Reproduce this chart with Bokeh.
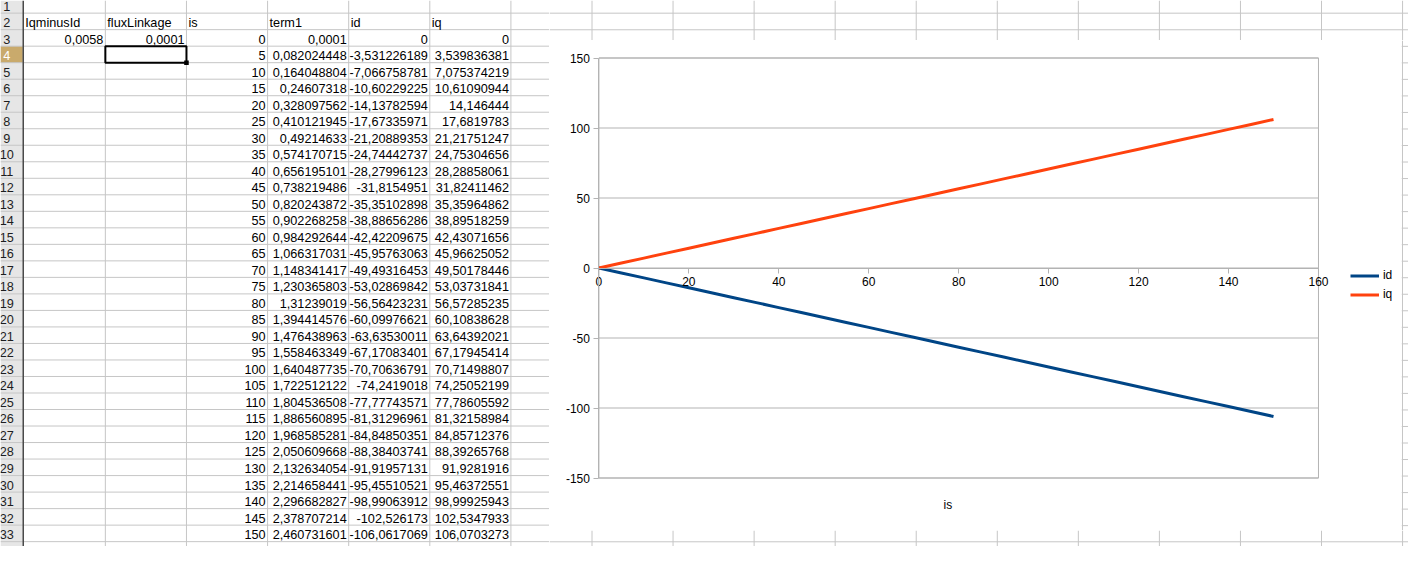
from bokeh.plotting import figure
from bokeh.models import Range1d, Legend, LegendItem, Label, FixedTicker, CustomJSTickFormatter
from bokeh.layouts import row, column
from bokeh.embed import file_html
from bokeh.resources import INLINE
from bokeh.core.properties import value

# ---------------- data (as displayed in the sheet) ----------------
col_headers = ["IqminusId", "fluxLinkage", "is", "term1", "id", "iq"]
iqminusid = ["0,0058"]
fluxlinkage = ["0,0001"]
is_vals = [0, 5, 10, 15, 20, 25, 30, 35, 40, 45, 50, 55, 60, 65, 70, 75,
           80, 85, 90, 95, 100, 105, 110, 115, 120, 125, 130, 135, 140, 145, 150]
term1 = ["0,0001", "0,082024448", "0,164048804", "0,24607318", "0,328097562",
         "0,410121945", "0,49214633", "0,574170715", "0,656195101", "0,738219486",
         "0,820243872", "0,902268258", "0,984292644", "1,066317031", "1,148341417",
         "1,230365803", "1,31239019", "1,394414576", "1,476438963", "1,558463349",
         "1,640487735", "1,722512122", "1,804536508", "1,886560895", "1,968585281",
         "2,050609668", "2,132634054", "2,214658441", "2,296682827", "2,378707214",
         "2,460731601"]
id_txt = ["0", "-3,531226189", "-7,066758781", "-10,60229225", "-14,13782594",
          "-17,67335971", "-21,20889353", "-24,74442737", "-28,27996123", "-31,8154951",
          "-35,35102898", "-38,88656286", "-42,42209675", "-45,95763063", "-49,49316453",
          "-53,02869842", "-56,56423231", "-60,09976621", "-63,63530011", "-67,17083401",
          "-70,70636791", "-74,2419018", "-77,77743571", "-81,31296961", "-84,84850351",
          "-88,38403741", "-91,91957131", "-95,45510521", "-98,99063912", "-102,526173",
          "-106,0617069"]
iq_txt = ["0", "3,539836381", "7,075374219", "10,61090944", "14,146444",
          "17,6819783", "21,21751247", "24,75304656", "28,28858061", "31,82411462",
          "35,35964862", "38,89518259", "42,43071656", "45,96625052", "49,50178446",
          "53,03731841", "56,57285235", "60,10838628", "63,64392021", "67,17945414",
          "70,71498807", "74,25052199", "77,78605592", "81,32158984", "84,85712376",
          "88,39265768", "91,9281916", "95,46372551", "98,99925943", "102,5347933",
          "106,0703273"]
series_names = ["id", "iq"]
x_ticks = [0, 20, 40, 60, 80, 100, 120, 140, 160]
y_ticks = [-150, -100, -50, 0, 50, 100, 150]
x_title = "is"


def num(s):
    return float(s.replace(",", "."))


id_vals = [num(s) for s in id_txt]
iq_vals = [num(s) for s in iq_txt]

# ---------------- layout geometry (reference pixels) ----------------
REF_W, REF_H = 1424, 562
OUT_W, OUT_H = 1408, 546
SX, SY = OUT_W / REF_W, OUT_H / REF_H
HDR_R = 23
COL_EDGES = [23, 106, 188, 270, 352, 434, 516, 598, 680, 762, 844, 926,
             1008, 1090, 1172, 1254, 1336, 1418]
ROW_LINES = [13 + 17 * k for k in range(34)]
N_ROWS = 33
CH_L, CH_R, CH_T, CH_B = 555, 1417, 41, 545      # chart object box
FR_L, FR_R, FR_T, FR_B = 605, 1333, 59, 491      # plot area box
LEG_X, LEG_TOP = 1365, 273.5                     # legend box corner
TITLE_X, TITLE_Y = 958, 519                      # axis title centre

SHEET_FONT = value("Liberation Sans")
FS = value("12.7px")
GRID_C = "#c6c6c6"
CHART_GRID = "#b3b3b3"


def row_top(r):
    return 0 if r == 1 else 13 + 17 * (r - 2)


def row_mid(r):
    return 6.5 if r == 1 else row_top(r) + 9.7


def base_fig(x0, x1, y0, y1, w, h):
    f = figure(width=w, height=h, x_range=Range1d(x0, x1), y_range=Range1d(y1, y0),
               output_backend="svg", toolbar_location=None,
               x_axis_location=None, y_axis_location=None, min_border=0,
               outline_line_color=None, background_fill_color="white",
               border_fill_color="white")
    f.grid.visible = False
    return f


def grid_strip(x0, x1, y0, y1, w, h):
    f = base_fig(x0, x1, y0, y1, w, h)
    hy = [y for y in ROW_LINES if y0 <= y <= y1]
    if hy:
        f.segment(x0=[x0] * len(hy), x1=[x1] * len(hy), y0=hy, y1=hy,
                  line_color=GRID_C, line_width=1)
    vx = [x for x in COL_EDGES if x0 <= x <= x1]
    if vx:
        f.segment(x0=vx, x1=vx, y0=[y0] * len(vx), y1=[y1] * len(vx),
                  line_color=GRID_C, line_width=1)
    return f


w_left = round(CH_L * SX)
w_chart = round((CH_R - CH_L) * SX)
w_rs = OUT_W - w_left - w_chart
h_top = round(CH_T * SY)
h_chart = round((CH_B - CH_T) * SY)
h_bot = OUT_H - h_top - h_chart

# ---------------- left: the spreadsheet cells ----------------
sheet = base_fig(0, CH_L, 0, REF_H, w_left, OUT_H)
sheet.quad(left=[0], right=[HDR_R], top=[0], bottom=[REF_H],
           fill_color="#e6e6e6", line_color=None)
sheet.quad(left=[0], right=[HDR_R - 0.5], top=[row_top(4)], bottom=[row_top(5)],
           fill_color="#c9aa6c", line_color=None)
sheet.segment(x0=[0] * len(ROW_LINES), x1=[CH_L] * len(ROW_LINES),
              y0=ROW_LINES, y1=ROW_LINES, line_color=GRID_C, line_width=1)
cx = [x for x in COL_EDGES[1:] if x < CH_L]
sheet.segment(x0=cx, x1=cx, y0=[0] * len(cx), y1=[REF_H] * len(cx),
              line_color=GRID_C, line_width=1)
sheet.segment(x0=[HDR_R], x1=[HDR_R], y0=[0], y1=[REF_H],
              line_color="#4a4a4a", line_width=1.5)

# row numbers
rn = [r for r in range(1, N_ROWS + 1) if r != 4]
sheet.text(x=[6.3] * len(rn), y=[row_mid(r) for r in rn], text=[str(r) for r in rn],
           text_font=SHEET_FONT, text_font_size=FS, text_color="#1e1e1e",
           text_align="center", text_baseline="middle")
sheet.text(x=[6.3], y=[row_mid(4)], text=["4"],
           text_font=SHEET_FONT, text_font_size=FS, text_color="white",
           text_align="center", text_baseline="middle")

# header row (row 2)
sheet.text(x=[COL_EDGES[i] + 2 for i in range(6)], y=[row_mid(2)] * 6, text=col_headers,
           text_font=SHEET_FONT, text_font_size=FS, text_color="black",
           text_align="left", text_baseline="middle")

# numeric cells, right aligned
tx, ty, tt = [], [], []
tx += [COL_EDGES[1] - 2, COL_EDGES[2] - 2]
ty += [row_mid(3), row_mid(3)]
tt += [iqminusid[0], fluxlinkage[0]]
for i in range(len(is_vals)):
    r = 3 + i
    for c, s in ((3, str(is_vals[i])), (4, term1[i]), (5, id_txt[i]), (6, iq_txt[i])):
        tx.append(COL_EDGES[c] - 2)
        ty.append(row_mid(r))
        tt.append(s)
sheet.text(x=tx, y=ty, text=tt, text_font=SHEET_FONT, text_font_size=FS,
           text_color="black", text_align="right", text_baseline="middle")

# selected cell B4
sheet.quad(left=[COL_EDGES[1]], right=[COL_EDGES[2]], top=[row_top(4)], bottom=[row_top(5)],
           fill_color=None, line_color="black", line_width=2)
sheet.quad(left=[COL_EDGES[2] - 2.3], right=[COL_EDGES[2] + 2.3],
           top=[row_top(5) - 2.3], bottom=[row_top(5) + 2.3],
           fill_color="black", line_color=None)

# ---------------- strips around the chart ----------------
top_strip = grid_strip(CH_L, REF_W, 0, CH_T, w_chart + w_rs, h_top)
right_strip = grid_strip(CH_R, REF_W, CH_T, CH_B, w_rs, h_chart)
bottom_strip = grid_strip(CH_L, REF_W, CH_B, REF_H, w_chart + w_rs, h_bot)

# ---------------- the chart (frame = whole chart box) ----------------
XU = (FR_R - FR_L) / (x_ticks[-1] - x_ticks[0])   # ref px per x unit
YU = (FR_B - FR_T) / (y_ticks[-1] - y_ticks[0])   # ref px per y unit
x0r = x_ticks[0] - (FR_L - CH_L) / XU
x1r = x_ticks[-1] + (CH_R - FR_R) / XU
y1r = y_ticks[-1] + (FR_T - CH_T) / YU
y0r = y_ticks[0] - (CH_B - FR_B) / YU

p = figure(width=w_chart, height=h_chart, x_range=Range1d(x0r, x1r), y_range=Range1d(y0r, y1r),
           output_backend="svg", toolbar_location=None, min_border=0,
           background_fill_color="white", border_fill_color="white",
           outline_line_color=None)
p.grid.visible = False

xmin, xmax = x_ticks[0], x_ticks[-1]
ymin, ymax = y_ticks[0], y_ticks[-1]

# horizontal grid lines and plot-area border
p.segment(x0=[xmin] * len(y_ticks), x1=[xmax] * len(y_ticks), y0=y_ticks, y1=y_ticks,
          line_color=CHART_GRID, line_width=1)
p.quad(left=[xmin], right=[xmax], bottom=[ymin], top=[ymax],
       fill_color=None, line_color=CHART_GRID, line_width=1)

p.xaxis.fixed_location = 0
p.yaxis.fixed_location = 0
p.xaxis.bounds = (xmin, xmax)
p.yaxis.bounds = (ymin, ymax)
p.xaxis.ticker = FixedTicker(ticks=x_ticks)
p.yaxis.ticker = FixedTicker(ticks=y_ticks)
for ax in (p.xaxis[0], p.yaxis[0]):
    ax.formatter = CustomJSTickFormatter(code="return String(tick);")
    ax.axis_line_color = CHART_GRID
    ax.axis_line_width = 1
    ax.major_tick_line_color = CHART_GRID
    ax.minor_tick_line_color = None
    ax.major_tick_in = 0
    ax.major_tick_out = 5
    ax.major_label_text_font = "Liberation Sans"
    ax.major_label_text_font_size = "12px"
    ax.major_label_text_color = "black"
    ax.major_label_standoff = 4

r_id = p.line(x=is_vals, y=id_vals, line_color="#004586", line_width=3)
r_iq = p.line(x=is_vals, y=iq_vals, line_color="#ff420e", line_width=3)

leg_h = 2 * 19
leg_vx = (LEG_X - CH_L) * SX
leg_vy = h_chart - (LEG_TOP - CH_T) * SY - leg_h
legend = Legend(items=[LegendItem(label=series_names[0], renderers=[r_id]),
                       LegendItem(label=series_names[1], renderers=[r_iq])],
                location=(leg_vx, leg_vy), orientation="vertical",
                border_line_color=None, background_fill_alpha=0,
                padding=0, margin=0, spacing=0,
                glyph_width=29, glyph_height=19, label_height=19, label_standoff=4,
                label_width=12,
                label_text_font="Liberation Sans", label_text_font_size="12px",
                label_text_color="black")
p.add_layout(legend)

p.add_layout(Label(x=xmin + (TITLE_X - FR_L) / XU, y=ymin - (TITLE_Y - FR_B) / YU,
                   text=x_title, text_font="Liberation Sans", text_font_size="12px",
                   text_color="black", text_align="center", text_baseline="middle"))

layout = row(sheet, column(top_strip, row(p, right_strip), bottom_strip))

open("out.html", "w").write(file_html(layout, INLINE))
